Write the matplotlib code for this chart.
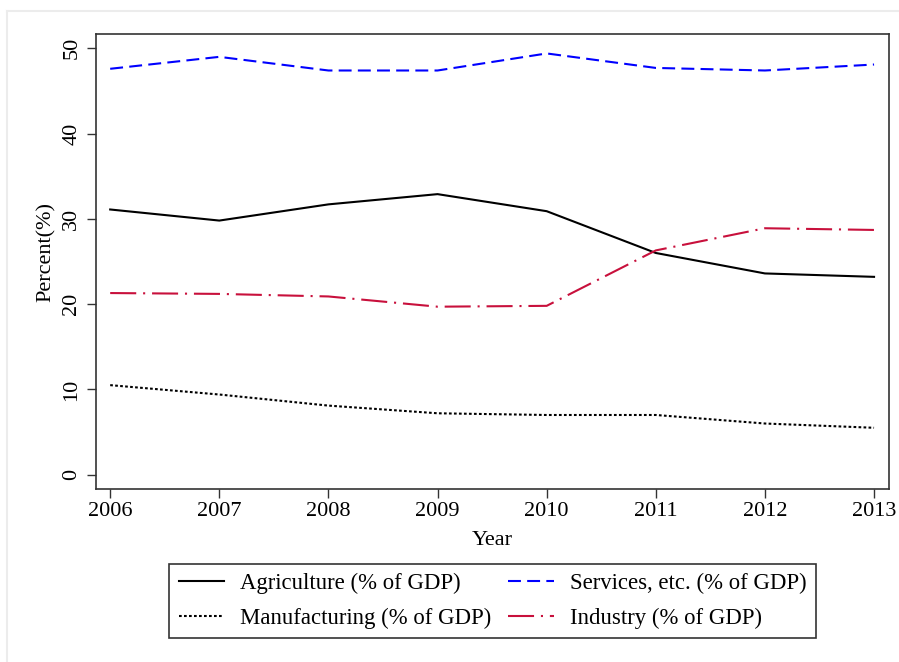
import matplotlib
matplotlib.use("Agg")
import matplotlib.pyplot as plt
from matplotlib.lines import Line2D

years = [2006, 2007, 2008, 2009, 2010, 2011, 2012, 2013]
agriculture = [31.1, 29.8, 31.7, 32.9, 30.9, 26.0, 23.6, 23.2]
services = [47.6, 49.0, 47.4, 47.4, 49.4, 47.7, 47.4, 48.1]
manufacturing = [10.5, 9.4, 8.1, 7.2, 7.0, 7.0, 6.0, 5.5]
industry = [21.3, 21.2, 20.9, 19.7, 19.8, 26.3, 28.9, 28.7]

y_ticks = [0, 10, 20, 30, 40, 50]

plt.rcParams["font.family"] = ["Liberation Serif", "DejaVu Serif"]
plt.rcParams["font.size"] = 16

W, H = 899, 662
fig = plt.figure(figsize=(W / 100, H / 100), dpi=100)
fig.patch.set_facecolor("white")

# thin light outline around the graph region
fig.add_artist(Line2D([7 / W, 7 / W], [0, 1 - 11 / H], transform=fig.transFigure,
                      color="#ececec", lw=1.5))
fig.add_artist(Line2D([7 / W, 1], [1 - 11 / H, 1 - 11 / H], transform=fig.transFigure,
                      color="#ececec", lw=1.5))

ax = fig.add_axes([96 / W, 1 - 489 / H, (889 - 96) / W, (489 - 34) / H])

lw = 1.5
ax.plot(years, agriculture, color="black", lw=lw, solid_joinstyle="miter",
        label="Agriculture (% of GDP)")
ax.plot(years, manufacturing, color="black", lw=lw, dashes=(1.3, 1.1),
        label="Manufacturing (% of GDP)")
ax.plot(years, services, color="#0000ff", lw=lw, dashes=(6.2, 3.0),
        label="Services, etc. (% of GDP)")
ax.plot(years, industry, color="#c8103c", lw=lw, dashes=(12.5, 3.3, 1.0, 3.3),
        label="Industry (% of GDP)")

ax.set_xlim(2005.87, 2013.137)
ax.set_ylim(-1.68, 51.68)
ax.set_xticks(years)
ax.set_yticks(y_ticks)
ax.tick_params(axis="both", direction="out", length=6.5, width=1, color="#333333")
ax.tick_params(axis="x", pad=3)
ax.tick_params(axis="y", pad=4)
for lab in ax.get_yticklabels():
    lab.set_rotation(90)
    lab.set_va("center")

for s in ax.spines.values():
    s.set_linewidth(1.2)
    s.set_color("#333333")

ax.set_xlabel("Year", labelpad=7)
ax.set_ylabel("Percent(%)")
ax.yaxis.set_label_coords(-0.050, 0.52)

handles, labels = ax.get_legend_handles_labels()
leg = fig.legend(handles, labels, ncol=2, loc="center",
                 bbox_to_anchor=(492.5 / W, 1 - 601 / H),
                 borderaxespad=0, fancybox=False, framealpha=1,
                 edgecolor="#333333", handlelength=2.0, handletextpad=0.7,
                 columnspacing=0.75, labelspacing=0.58, borderpad=0.42, fontsize=16.4)
leg.get_frame().set_linewidth(1.2)

fig.savefig("out.png", dpi=100)
